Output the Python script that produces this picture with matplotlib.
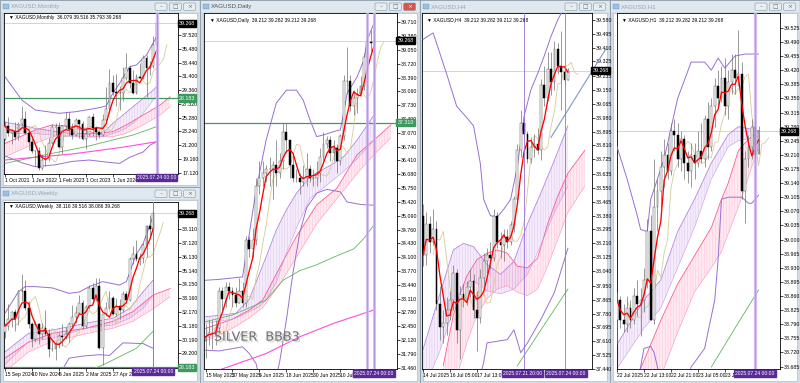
import numpy as np
import pandas as pd
import matplotlib
matplotlib.use('Agg')
import matplotlib.pyplot as plt
import matplotlib.transforms as mtrans
import matplotlib.patheffects as pe
from matplotlib.colors import to_rgba
from matplotlib.patches import Rectangle, FancyBboxPatch

plt.rcParams['font.family'] = ['Liberation Sans Narrow', 'Liberation Sans', 'DejaVu Sans']
plt.rcParams['hatch.linewidth'] = 0.3

# ---------------- data ----------------
last_price = 39.268
vline_label = '2025.07.24 00:00'

# Monthly, Oct 2021 .. Jul 2025
m_open = [22.18, 23.98, 23.03, 23.30, 22.44, 24.30, 25.10, 22.99, 21.69, 20.28, 20.30, 17.86, 19.04, 19.17, 21.49,
          23.95, 23.93, 20.95, 24.09, 25.02, 23.56, 22.76, 24.90, 24.35, 22.14, 22.87, 25.30, 23.79, 23.22, 22.68,
          24.96, 26.58, 30.42, 29.12, 28.92, 28.89, 31.14, 32.64, 30.39, 28.90, 31.30, 31.13, 34.06, 32.70, 33.00, 36.079]
m_high = [24.82, 25.40, 23.41, 24.70, 24.70, 26.94, 26.22, 23.20, 22.51, 20.50, 20.90, 19.95, 21.24, 22.24, 24.30,
          24.55, 24.64, 24.16, 26.09, 26.14, 24.55, 25.27, 24.99, 24.82, 23.70, 25.50, 25.92, 24.09, 23.44, 25.77,
          29.80, 32.51, 31.55, 31.76, 29.97, 32.72, 34.87, 33.03, 32.33, 31.67, 33.40, 34.60, 34.59, 33.70, 37.32, 39.516]
m_low = [21.95, 22.60, 21.42, 22.00, 22.00, 24.00, 22.80, 20.46, 20.10, 18.15, 17.56, 17.45, 18.09, 18.84, 21.38,
         22.76, 20.74, 19.90, 23.57, 22.68, 22.11, 22.52, 22.22, 21.91, 20.68, 22.54, 22.51, 21.93, 22.28, 22.50,
         24.74, 26.02, 28.61, 27.05, 26.45, 27.72, 30.85, 29.69, 28.75, 28.75, 30.97, 31.04, 28.35, 31.65, 32.62, 35.793]
m_close = [23.98, 23.03, 23.30, 22.44, 24.30, 25.10, 22.99, 21.69, 20.28, 20.30, 17.86, 19.04, 19.17, 21.49, 23.95,
           23.93, 20.95, 24.09, 25.02, 23.56, 22.76, 24.90, 24.35, 22.14, 22.87, 25.30, 23.79, 23.22, 22.68, 24.96,
           26.58, 30.42, 29.12, 28.92, 28.89, 31.14, 32.64, 30.39, 28.90, 31.30, 31.13, 34.06, 32.70, 33.00, 36.08, 39.268]
m_ticks = [37.52, 35.48, 33.44, 31.40, 29.36, 27.32, 25.28, 23.24, 21.20, 19.16, 17.12]
m_dates = ['1 Oct 2021', '1 Jun 2022', '1 Feb 2023', '1 Oct 2023', '1 Jun 2024']
m_date_idx = [0, 8, 16, 24, 32]
m_bbup_x = [0, 5, 9, 16, 21, 27, 30, 32, 34, 37, 39, 42, 45]
m_bbup = [31.34, 27.89, 26.41, 25.92, 26.16, 26.66, 27.00, 28.88, 30.36, 32.82, 33.08, 34.56, 37.27]
m_bbdn_x = [0, 5, 9, 15, 20, 25, 30, 34, 37, 41, 43, 45]
m_bbdn = [19.6, 18.6, 18.0, 18.3, 18.8, 19.0, 18.7, 18.5, 19.4, 20.2, 21.2, 21.7]
m_pur_x = [0, 2, 9, 14, 19, 26, 29, 32, 35, 38, 41, 44, 45]
m_pur_top = [24.6, 24.44, 23.7, 23.3, 22.96, 22.9, 22.96, 24.44, 25.67, 26.9, 28.14, 29.37, 29.86]
m_pur_bot = [23.2, 22.96, 22.9, 22.7, 22.45, 22.4, 22.45, 22.9, 23.45, 24.44, 25.92, 27.89, 28.38]
m_pink_x = [0, 9, 14, 19, 27, 32, 36, 41, 46, 49]
m_pink_top = [21.47, 23.45, 24.2, 24.0, 22.96, 23.2, 24.2, 25.67, 27.15, 28.38]
m_pink_bot = [19.49, 21.47, 22.45, 22.6, 22.45, 22.45, 22.96, 24.2, 25.67, 26.9]
m_green_x = [0, 14, 24, 32, 38, 45]
m_green = [18.5, 19.99, 20.97, 21.97, 22.7, 23.95]
m_mag_x = [0, 20, 35, 45]
m_mag = [19.0, 19.9, 20.9, 21.71]
m_level = 28.183

# Weekly, 15 Sep 2024 .. 20 Jul 2025
w_open = [30.70, 31.16, 31.63, 32.16, 31.68, 33.71, 33.68, 32.47, 31.29, 30.22, 31.30, 30.62, 31.03, 30.60, 29.50,
          29.52, 29.88, 30.42, 30.35, 30.61, 31.30, 31.83, 32.13, 32.85, 31.15, 32.55, 33.87, 33.07, 34.06, 29.55,
          32.00, 32.48, 33.15, 32.05, 32.63, 32.29, 33.46, 33.00, 35.95, 36.30, 36.00, 36.07, 36.96, 38.38, 38.116]
w_high = [31.35, 32.72, 32.27, 32.35, 33.75, 34.87, 34.45, 32.99, 31.43, 31.52, 31.38, 31.36, 32.33, 30.93, 30.11,
          30.09, 30.68, 31.30, 31.10, 31.44, 32.70, 32.60, 33.40, 33.05, 32.65, 34.10, 34.23, 34.60, 34.59, 32.05,
          32.89, 33.70, 33.30, 33.20, 33.10, 33.70, 33.70, 36.10, 36.89, 37.32, 36.40, 37.13, 38.45, 39.13, 39.516]
w_low = [30.30, 30.90, 31.10, 30.82, 31.20, 32.96, 32.28, 31.01, 29.69, 30.02, 29.88, 30.23, 30.50, 28.95, 29.35,
         28.75, 29.60, 29.70, 30.20, 30.00, 31.10, 31.40, 32.00, 30.97, 31.04, 32.40, 32.85, 32.93, 29.50, 28.35,
         31.90, 32.35, 31.95, 31.90, 31.65, 32.20, 32.80, 32.95, 35.60, 35.84, 35.55, 35.70, 36.11, 37.50, 38.086]
w_close = [31.16, 31.63, 32.16, 31.68, 33.71, 33.68, 32.47, 31.29, 30.22, 31.30, 30.62, 31.03, 30.60, 29.50, 29.52,
           29.88, 30.42, 30.35, 30.61, 31.30, 31.83, 32.13, 32.85, 31.15, 32.55, 33.87, 33.07, 34.06, 29.55, 32.00,
           32.48, 33.15, 32.05, 32.63, 32.29, 33.46, 33.00, 35.95, 36.30, 36.00, 36.07, 36.96, 38.38, 38.16, 39.268]
w_ticks = [38.11, 37.12, 36.13, 35.14, 34.15, 33.16, 32.17, 31.18, 30.19, 29.20]
w_dates = ['15 Sep 2024', '10 Nov 2024', '5 Jan 2025', '2 Mar 2025', '27 Apr 2025']
w_date_idx = [0, 8, 16, 24, 32]
w_bbup_x = [0, 4, 6, 9, 14, 19, 22, 25, 29, 32, 34, 36, 37, 38, 39, 41, 43, 44]
w_bbup = [32.08, 33.63, 33.99, 33.99, 33.90, 33.51, 33.60, 33.99, 34.35, 34.20, 34.10, 34.35, 35.0, 35.7, 36.3,
          37.1, 38.4, 39.14]
w_bbdn_x = [0, 10, 17, 19, 23, 28, 31, 35, 41, 44]
w_bbdn = [27.6, 27.8, 28.0, 28.85, 29.0, 29.1, 29.05, 29.95, 29.9, 29.55]
w_pur_x = [0, 7, 14, 24, 32, 37, 41, 44]
w_pur_top = [29.3, 30.64, 30.87, 31.36, 31.72, 32.43, 33.63, 34.47]
w_pur_bot = [28.4, 30.04, 30.28, 31.00, 31.23, 31.72, 32.43, 33.39]
w_pink_x = [0, 7, 14, 24, 32, 38, 44, 49]
w_pink_top = [28.86, 30.0, 30.64, 31.0, 31.5, 32.2, 33.4, 33.85]
w_pink_bot = [27.9, 29.3, 30.04, 30.6, 31.0, 31.5, 32.4, 33.27]
w_green_x = [24, 29, 34, 39, 44]
w_green = [27.88, 28.36, 28.96, 29.56, 30.80]
w_level = 28.183

# Daily, 15 May 2025 .. 24 Jul 2025
d_open = [32.10, 32.20, 32.30, 32.30, 32.40, 33.30, 33.10, 33.40, 33.30, 33.20, 33.00, 33.30, 33.00, 34.50, 34.30,
          34.50, 35.80, 36.00, 36.10, 36.20, 36.20, 36.30, 36.10, 36.40, 37.10, 36.90, 36.30, 36.00, 36.00, 35.90,
          36.00, 36.20, 36.00, 36.00, 36.10, 36.50, 36.80, 36.90, 36.60, 36.70, 36.40, 37.00, 38.30, 38.30, 37.72,
          37.90, 38.00, 38.20, 38.88, 39.25, 39.212]
d_high = [32.50, 32.60, 32.60, 32.60, 33.40, 33.40, 33.50, 33.50, 33.40, 33.40, 33.60, 33.50, 34.60, 34.60, 34.80,
          36.00, 36.40, 36.40, 36.30, 36.50, 36.40, 36.90, 36.60, 37.30, 37.30, 36.90, 36.60, 36.20, 36.10, 36.30,
          36.60, 36.30, 36.20, 36.40, 36.70, 37.10, 37.00, 37.00, 36.90, 36.80, 37.05, 38.45, 39.13, 38.45, 38.10,
          38.15, 38.42, 38.98, 39.33, 39.52, 39.282]
d_low = [31.70, 32.00, 31.90, 32.00, 32.30, 32.80, 32.90, 33.10, 32.90, 32.90, 33.00, 32.90, 32.90, 34.10, 34.10,
         34.40, 35.60, 35.80, 35.90, 35.80, 35.50, 35.80, 36.00, 36.20, 36.60, 36.00, 35.90, 35.90, 35.60, 35.80,
         35.80, 35.90, 35.80, 35.80, 35.90, 36.40, 36.70, 36.40, 36.40, 36.10, 36.30, 36.90, 38.00, 37.60, 37.50,
         37.55, 37.95, 38.10, 38.72, 39.03, 39.212]
d_close = [32.20, 32.30, 32.30, 32.40, 33.30, 33.10, 33.40, 33.30, 33.20, 33.00, 33.30, 33.00, 34.50, 34.30, 34.50,
           35.80, 36.00, 36.10, 36.20, 36.20, 36.30, 36.10, 36.40, 37.10, 36.90, 36.30, 36.00, 36.00, 35.90, 36.00,
           36.20, 36.00, 36.00, 36.10, 36.50, 36.80, 36.90, 36.60, 36.70, 36.40, 37.00, 38.30, 38.30, 37.72, 37.90,
           38.00, 38.20, 38.88, 39.25, 39.21, 39.268]
d_ticks = [39.71, 39.38, 39.05, 38.72, 38.39, 38.06, 37.73, 37.40, 37.07, 36.74, 36.41, 36.08, 35.75, 35.42, 35.09,
           34.76, 34.43, 34.10, 33.77, 33.44, 33.11, 32.78, 32.45, 32.12, 31.79, 31.46]
d_dates = ['15 May 2025', '27 May 2025', '6 Jun 2025', '18 Jun 2025', '30 Jun 2025', '10 Jul 2025']
d_date_idx = [0, 8, 16, 24, 32, 40]
d_bbup_x = [0, 4, 11, 15, 18, 21, 24, 27, 29, 31, 33, 35, 38, 40, 41, 42, 45, 47, 48, 50]
d_bbup = [33.55, 33.57, 33.63, 35.70, 36.90, 37.78, 38.09, 38.09, 37.85, 37.38, 36.98, 37.02, 37.10, 37.14, 37.54,
          38.01, 38.41, 38.81, 39.29, 39.69]
d_bbdn_x = [0, 4, 11, 13, 15, 16, 18, 20, 22, 24, 26, 28, 30, 33, 36, 40, 42, 46, 50]
d_bbdn = [31.88, 31.86, 31.96, 31.80, 31.56, 31.20, 30.80, 30.90, 31.60, 32.60, 33.75, 34.70, 35.28, 35.63, 35.72,
          35.66, 35.42, 35.36, 35.34]
d_pur_x = [0, 5, 9, 13, 16, 18, 21, 24, 27, 31, 38, 41, 45, 50]
d_pur_top = [32.68, 32.72, 32.76, 33.10, 33.71, 34.11, 34.75, 35.23, 35.63, 36.02, 36.34, 36.50, 36.90, 37.50]
d_pur_bot = [32.52, 32.58, 32.64, 32.80, 32.92, 33.08, 33.50, 34.20, 34.80, 35.50, 35.95, 36.15, 36.45, 36.90]
d_pink_x = [0, 8, 13, 17, 22, 27, 33, 39, 45, 50, 55]
d_pink_top = [32.40, 32.62, 32.84, 33.08, 33.85, 34.60, 35.35, 35.75, 36.55, 36.90, 37.26]
d_pink_bot = [32.10, 32.40, 32.65, 32.90, 33.45, 34.10, 34.90, 35.50, 36.10, 36.55, 36.95]
d_green_x = [0, 8, 15, 18, 23, 28, 33, 38, 44, 47, 50]
d_green = [32.56, 32.72, 32.96, 33.08, 33.55, 33.78, 33.92, 34.10, 34.30, 34.55, 34.87]
d_mag_x = [0, 6, 18, 28, 38, 50]
d_mag = [31.30, 31.46, 31.80, 32.20, 32.52, 32.84]
d_level = 37.31

# H4, 14 Jul 21:00 .. 24 Jul 00:00
h4_open = [38.38, 38.14, 38.33, 38.22, 38.30, 37.84, 37.70, 37.72, 37.80, 37.86, 38.03, 37.68, 37.90, 37.87, 37.94,
           37.98, 37.80, 37.75, 38.00, 38.10, 38.14, 38.12, 38.38, 38.22, 38.20, 38.25, 38.22, 38.32, 38.48, 38.78,
           38.95, 38.88, 38.73, 38.80, 38.82, 38.78, 39.18, 39.10, 39.28, 39.20, 39.40, 39.30, 39.26, 39.212]
h4_high = [38.45, 38.40, 38.38, 38.42, 38.35, 37.95, 37.80, 37.88, 37.92, 38.08, 38.05, 37.95, 37.96, 37.98, 38.05,
           38.02, 37.92, 38.05, 38.15, 38.18, 38.22, 38.42, 38.40, 38.28, 38.30, 38.30, 38.35, 38.50, 38.82, 39.03,
           38.98, 38.90, 38.86, 38.88, 38.92, 39.22, 39.30, 39.38, 39.38, 39.45, 39.44, 39.51, 39.30, 39.282]
h4_low = [38.07, 38.08, 38.15, 38.20, 37.80, 37.62, 37.60, 37.65, 37.74, 37.80, 37.60, 37.50, 37.82, 37.83, 37.88,
          37.75, 37.55, 37.72, 37.95, 38.02, 38.05, 38.10, 38.18, 38.12, 38.10, 38.18, 38.20, 38.28, 38.45, 38.74,
          38.85, 38.70, 38.70, 38.74, 38.76, 38.72, 39.05, 39.08, 39.12, 39.15, 39.25, 39.03, 39.18, 39.212]
h4_close = [38.14, 38.33, 38.22, 38.30, 37.84, 37.70, 37.72, 37.80, 37.86, 38.03, 37.68, 37.90, 37.87, 37.94, 37.98,
            37.80, 37.75, 38.00, 38.10, 38.14, 38.12, 38.38, 38.22, 38.20, 38.25, 38.22, 38.32, 38.48, 38.78, 38.95,
            38.88, 38.73, 38.80, 38.82, 38.78, 39.18, 39.10, 39.28, 39.20, 39.40, 39.30, 39.26, 39.21, 39.268]
h4_ticks = [39.580, 39.495, 39.410, 39.325, 39.235, 39.150, 39.065, 38.980, 38.895, 38.810, 38.725, 38.635, 38.550,
            38.465, 38.380, 38.295, 38.210, 38.125, 38.040, 37.950, 37.865, 37.780, 37.695, 37.610, 37.525, 37.440]
h4_dates = ['14 Jul 2025', '16 Jul 05:00', '17 Jul 13:00', '18 Jul 21:00', '22 Jul 05:00']
h4_date_idx = [0, 8, 16, 24, 32]
h4_bbup_x = [0, 3, 7, 10, 13, 15, 17, 18, 20, 22, 24, 26, 28, 30, 32, 34, 36, 38, 40, 42]
h4_bbup = [39.46, 39.50, 39.25, 39.05, 38.98, 38.93, 38.70, 38.48, 38.38, 38.37, 38.42, 38.48, 38.68, 38.99, 39.15,
           39.25, 39.36, 39.48, 39.58, 39.66]
h4_bbdn_x = [0, 8, 14, 17, 18, 19, 25, 27, 29, 31, 35, 39, 43]
h4_bbdn = [36.9, 36.8, 37.1, 37.40, 37.48, 37.60, 37.62, 37.68, 37.54, 37.60, 37.745, 37.91, 38.18]
h4_pur_x = [0, 5, 9, 12, 15, 19, 23, 27, 31, 35, 39, 43]
h4_pur_top = [37.56, 37.90, 38.17, 38.21, 38.19, 38.08, 38.02, 38.10, 38.33, 38.52, 38.72, 38.93]
h4_pur_bot = [37.30, 37.55, 37.80, 37.95, 37.98, 37.92, 37.90, 37.93, 38.02, 38.20, 38.40, 38.56]
h4_pink_x = [6, 9, 11, 13, 16, 19, 22, 25, 28, 31, 34, 37, 40, 43, 48]
h4_pink_top = [37.46, 37.77, 37.90, 38.01, 38.11, 38.15, 38.17, 38.15, 38.07, 38.06, 38.12, 38.33, 38.50, 38.64, 38.78]
h4_pink_bot = [37.20, 37.35, 37.46, 37.60, 37.77, 37.87, 37.93, 37.95, 37.91, 37.89, 37.93, 38.07, 38.235, 38.40, 38.56]
h4_green_x = [28, 35, 43]
h4_green = [37.46, 37.68, 37.93]
h4_trend_x = [38, 54.5]
h4_trend = [38.86, 39.41]

# H1, 22 Jul 05:00 .. 24 Jul 00:00
h1_open = [38.80, 38.85, 38.80, 38.79, 38.83, 38.80, 38.86, 38.84, 38.85, 38.90, 39.02, 38.80, 39.08, 39.12, 39.18,
           39.21, 39.17, 39.27, 39.26, 39.20, 39.25, 39.19, 39.17, 39.21, 39.19, 39.22, 39.20, 39.30, 39.23, 39.33,
           39.38, 39.35, 39.40, 39.33, 39.39, 39.42, 39.40, 39.41, 39.12, 39.20, 39.23, 39.28, 39.212]
h1_high = [38.87, 38.86, 38.84, 38.86, 38.85, 38.88, 38.90, 38.88, 38.93, 39.05, 39.06, 39.20, 39.15, 39.22, 39.25,
           39.24, 39.29, 39.30, 39.29, 39.27, 39.26, 39.22, 39.24, 39.24, 39.27, 39.29, 39.31, 39.34, 39.35, 39.40,
           39.42, 39.43, 39.45, 39.42, 39.46, 39.46, 39.52, 39.44, 39.22, 39.26, 39.30, 39.30, 39.282]
h1_low = [38.74, 38.78, 38.77, 38.77, 38.78, 38.79, 38.81, 38.76, 38.82, 38.88, 38.80, 38.79, 39.02, 39.08, 39.13,
          39.15, 39.16, 39.22, 39.18, 39.17, 39.15, 39.14, 39.13, 39.15, 39.18, 39.19, 39.18, 39.20, 39.22, 39.28,
          39.33, 39.34, 39.31, 39.30, 39.36, 39.36, 39.38, 39.10, 39.04, 39.18, 39.20, 39.20, 39.212]
h1_close = [38.85, 38.80, 38.79, 38.83, 38.80, 38.86, 38.84, 38.85, 38.90, 39.02, 38.80, 39.08, 39.12, 39.18, 39.21,
            39.17, 39.27, 39.26, 39.20, 39.25, 39.19, 39.17, 39.21, 39.19, 39.22, 39.20, 39.30, 39.23, 39.33, 39.38,
            39.35, 39.40, 39.33, 39.39, 39.42, 39.40, 39.41, 39.12, 39.20, 39.23, 39.28, 39.21, 39.268]
h1_ticks = [39.525, 39.490, 39.455, 39.420, 39.385, 39.350, 39.315, 39.280, 39.245, 39.210, 39.175, 39.140, 39.105,
            39.070, 39.035, 39.000, 38.965, 38.930, 38.895, 38.860, 38.825, 38.790, 38.755, 38.720, 38.685]
h1_dates = ['22 Jul 2025', '22 Jul 13:00', '22 Jul 21:00', '23 Jul 05:00', '23 Jul 13:00']
h1_date_idx = [0, 8, 16, 24, 32]
h1_bbup_x = [0, 3, 6, 7, 9, 10, 14, 18, 22, 26, 28, 30, 32, 35, 38, 42]
h1_bbup = [39.23, 39.15, 39.06, 39.025, 39.02, 39.10, 39.20, 39.35, 39.44, 39.44, 39.42, 39.45, 39.425, 39.455,
           39.46, 39.46]
h1_bbdn_x = [5, 7, 8, 10, 11, 12, 14, 18, 22, 26, 29, 30, 31, 33, 37, 39, 40, 42]
h1_bbdn = [38.60, 38.684, 38.73, 38.735, 38.72, 38.684, 38.62, 38.55, 38.684, 38.73, 38.85, 38.95, 39.10, 39.105,
           39.105, 39.09, 39.09, 39.11]
h1_pur_x = [0, 8, 13, 18, 23, 28, 33, 36, 42]
h1_pur_top = [38.74, 38.85, 38.90, 39.02, 39.10, 39.19, 39.26, 39.28, 39.27]
h1_pur_bot = [38.68, 38.78, 38.83, 38.93, 39.03, 39.15, 39.23, 39.245, 39.255]
h1_pink_x = [7, 13, 18, 23, 28, 31, 33, 36, 38, 42]
h1_pink_top = [38.68, 38.80, 38.89, 38.96, 39.03, 39.10, 39.14, 39.22, 39.24, 39.27]
h1_pink_bot = [38.55, 38.66, 38.77, 38.87, 38.93, 38.97, 39.015, 39.08, 39.13, 39.23]
h1_green_x = [28, 35, 42]
h1_green = [38.684, 38.78, 38.875]

# ---------------- drawing ----------------
W, H = 800, 383
STEP = 3.37
fig = plt.figure(figsize=(8, 3.83), dpi=100)
fig.patch.set_facecolor('#c3cdd7')

bg = fig.add_axes([0, 0, 1, 1])
bg.set_xlim(0, W)
bg.set_ylim(H, 0)
bg.axis('off')


def window(l, t, r, b, title, active=False):
    bg.add_patch(Rectangle((l, t), r - l, b - t, fc='#d3dce5', ec='#8e9cab', lw=0.6))
    bg.add_patch(Rectangle((l + 1, t + 1), r - l - 2, 11, fc='#dfe7ef', ec='none'))
    bg.add_patch(Rectangle((l + 3, t + 12.5), r - l - 6, b - t - 15, fc='white', ec='#a5b1bd', lw=0.4))
    bg.add_patch(Rectangle((l + 3, t + 3.5), 5.5, 5.5, fc='#9cc0e0', ec='#6e92b6', lw=0.3))
    bg.text(l + 11, t + 6.8, title, fontsize=4.4, color='#505050' if active else '#9aa5b0', va='center',
            family=['Liberation Sans', 'DejaVu Sans'])
    for k, glyph in enumerate(['\u2013', '\u25a1', '\u00d7']):
        bx = r - 45 + k * 14.3
        red = active and k == 2
        fc = '#d9534f' if red else '#e8edf2'
        bg.add_patch(FancyBboxPatch((bx, t + 3), 12, 7.5, boxstyle='round,pad=0,rounding_size=1.3',
                                    fc=fc, ec='#8795a3', lw=0.4))
        bg.text(bx + 6, t + 6.8, glyph, fontsize=4.2, ha='center', va='center',
                color='white' if red else '#6a6a6a', family=['DejaVu Sans'])


window(0, 0, 200, 187, 'XAGUSD,Monthly')
window(0, 187, 200, 383, 'XAGUSD,Weekly')
window(200, 0, 420, 383, 'XAGUSD,Daily', active=True)
window(420, 0, 610, 383, 'XAGUSD,H4')
window(610, 0, 800, 383, 'XAGUSD,H1')

# chart-shift markers at the top of each chart
bg.plot([160, 160, 378, 573, 763], [16, 205, 16, 16, 16], ls='none', marker='v', ms=2.2,
        color='#a0a0a0', zorder=20)


def ribbon(ax, x, top, bot, color, edge):
    ax.fill_between(x, bot, top, facecolor=to_rgba(color, 0.18), edgecolor=to_rgba(color, 0.55),
                    hatch='||||||', lw=0, zorder=1)
    ax.plot(x, top, color=edge, lw=0.55, zorder=2)
    ax.plot(x, bot, color=color, lw=0.4, zorder=2)


def panel(box, x0, ylim, o, h, l, c, ticks, dates, date_idx, header):
    left, top, right, bottom = box
    ax = fig.add_axes([left / W, 1 - bottom / H, (right - left) / W, (bottom - top) / H])
    ax.set_facecolor('white')
    ax.set_xlim((left - x0) / STEP, (right - x0) / STEP)
    ax.set_ylim(*ylim)
    for s in ax.spines.values():
        s.set_linewidth(0.6)
        s.set_color('black')
    ax.yaxis.tick_right()
    ax.set_yticks(ticks)
    ax.set_yticklabels([f'{v:.3f}' for v in ticks])
    ax.set_xticks(date_idx)
    ax.set_xticklabels(dates)
    for t in ax.get_xticklabels():
        t.set_ha('left')
    ax.tick_params(axis='y', length=2, width=0.5, pad=1.0, labelsize=3.8)
    ax.tick_params(axis='x', length=2, width=0.5, pad=1.0, labelsize=3.6)

    o, h, l, c = (np.asarray(v, float) for v in (o, h, l, c))
    x = np.arange(len(o))
    ax.vlines(x, l, h, color='#707070', lw=0.5, zorder=4)
    up = c >= o
    ax.bar(x[up], (c - o)[up], bottom=o[up], width=0.55, color='white', edgecolor='#555555', lw=0.35, zorder=5)
    ax.bar(x[~up], (o - c)[~up], bottom=c[~up], width=0.55, color='black', edgecolor='black', lw=0.35, zorder=5)

    close = pd.Series(c)
    red = close.rolling(4, min_periods=1).mean()
    tan = close.rolling(3, min_periods=1).mean()
    ax.plot(x + 3, tan, color='#d8cc98', lw=0.6, zorder=3)
    ax.plot(x, red, color='#ff0000', lw=0.95, zorder=6)

    ax.axhline(last_price, color='#c4c4c4', lw=0.5, zorder=0.5)
    tr = mtrans.blended_transform_factory(ax.transAxes, ax.transData)
    ax.text(1.004, last_price, f'{last_price:.3f}', transform=tr, fontsize=3.8, color='white', va='center',
            ha='left', bbox=dict(boxstyle='square,pad=0.2', fc='black', ec='black'), zorder=10, clip_on=False)
    ax.text(0.03, 0.988, '\u25bc ' + header, transform=ax.transAxes, fontsize=3.5, va='top', ha='left',
            color='black', zorder=10)
    return ax


def date_box(ax, i, text, fc='#5a2a96'):
    tr = mtrans.blended_transform_factory(ax.transData, ax.transAxes)
    ax.text(i, -0.006, text, transform=tr, fontsize=3.6, color='white', ha='center', va='top', zorder=12,
            bbox=dict(boxstyle='square,pad=0.22', fc=fc, ec=fc), clip_on=False)


def level(ax, value):
    ax.axhline(value, color='#3c9a5f', lw=0.9, zorder=2)
    tr = mtrans.blended_transform_factory(ax.transAxes, ax.transData)
    ax.text(1.004, value, f'{value:.3f}', transform=tr, fontsize=3.8, color='white', va='center', ha='left',
            bbox=dict(boxstyle='square,pad=0.2', fc='#3c9a5f', ec='#3c9a5f'), zorder=10, clip_on=False)


BB = '#9a6fd2'
PUR = '#c49be6'
PINK = '#ff8fb5'

# Monthly
ax = panel((3.5, 13.3, 178, 174), 5, (16.93, 40.735), m_open, m_high, m_low, m_close, m_ticks,
           m_dates, m_date_idx, 'XAGUSD,Monthly  36.079 39.516 35.793 39.268')
ribbon(ax, m_pink_x, m_pink_top, m_pink_bot, PINK, '#ff4f8a')
ribbon(ax, m_pur_x, m_pur_top, m_pur_bot, PUR, '#b07fe0')
ax.plot(m_bbup_x, m_bbup, color=BB, lw=0.7, zorder=3)
ax.plot(m_bbdn_x, m_bbdn, color=BB, lw=0.7, zorder=3)
ax.plot(m_green_x, m_green, color='#5cb85c', lw=0.6, zorder=3)
ax.plot(m_mag_x, m_mag, color='#ff4de0', lw=0.8, zorder=3)
level(ax, m_level)
ax.axvline(45, color='#cfb3ef', lw=2.4, alpha=0.85, zorder=7)
ax.axvline(45, color='#a47bd6', lw=0.5, zorder=7)
date_box(ax, 45, vline_label)

# Weekly
ax = panel((3.5, 202, 178, 368), 5, (28.146, 40.07), w_open, w_high, w_low, w_close, w_ticks,
           w_dates, w_date_idx, 'XAGUSD,Weekly  38.116 39.516 38.086 39.268')
ribbon(ax, w_pink_x, w_pink_top, w_pink_bot, PINK, '#ff4f8a')
ribbon(ax, w_pur_x, w_pur_top, w_pur_bot, PUR, '#b07fe0')
ax.plot(w_bbup_x, w_bbup, color=BB, lw=0.7, zorder=3)
ax.plot(w_bbdn_x, w_bbdn, color=BB, lw=0.7, zorder=3)
ax.plot(w_green_x, w_green, color='#5cb85c', lw=0.6, zorder=3)
level(ax, w_level)
ax.axvline(44, color='#9a6fd2', lw=0.7, zorder=7)
date_box(ax, 44, vline_label)

# Daily
ax = panel((204, 13.3, 396.7, 369), 205.5, (31.43, 39.925), d_open, d_high, d_low, d_close, d_ticks,
           d_dates, d_date_idx, 'XAGUSD,Daily  39.212 39.282 39.212 39.268')
ribbon(ax, d_pink_x, d_pink_top, d_pink_bot, PINK, '#ff4f8a')
ribbon(ax, d_pur_x, d_pur_top, d_pur_bot, PUR, '#b07fe0')
ax.plot(d_bbup_x, d_bbup, color=BB, lw=0.7, zorder=3)
ax.plot(d_bbdn_x, d_bbdn, color=BB, lw=0.7, zorder=3)
ax.plot(d_green_x, d_green, color='#5cb85c', lw=0.6, zorder=3)
ax.plot(d_mag_x, d_mag, color='#ff4de0', lw=0.8, zorder=3)
level(ax, d_level)
for vx in (48, 50):
    ax.axvline(vx, color='#cfb3ef', lw=2.2, alpha=0.85, zorder=7)
    ax.axvline(vx, color='#a47bd6', lw=0.4, zorder=7)
date_box(ax, 45, '   ', fc='#b190e0')
date_box(ax, 50, vline_label)
ax.text(2.5, 32.19, 'SILVER  BBB3', fontsize=9.2, color='#6e6e6e', va='center', ha='left', zorder=9,
        family=['DejaVu Sans'],
        path_effects=[pe.withSimplePatchShadow(offset=(1.2, -1.2), shadow_rgbFace='#c8c8c8', alpha=0.8)])

# H4
ax = panel((421.7, 13.3, 591.7, 369), 423, (37.446, 39.62), h4_open, h4_high, h4_low, h4_close, h4_ticks,
           h4_dates, h4_date_idx, 'XAGUSD,H4  39.212 39.282 39.212 39.268')
ribbon(ax, h4_pink_x, h4_pink_top, h4_pink_bot, PINK, '#ff4f8a')
ribbon(ax, h4_pur_x, h4_pur_top, h4_pur_bot, PUR, '#b07fe0')
ax.plot(h4_bbup_x, h4_bbup, color=BB, lw=0.7, zorder=3)
ax.plot(h4_bbdn_x, h4_bbdn, color=BB, lw=0.7, zorder=3)
ax.plot(h4_green_x, h4_green, color='#5cb85c', lw=0.6, zorder=3)
ax.plot(h4_trend_x, h4_trend, color='#7f99c4', lw=0.8, zorder=3, clip_on=False)
for vx in (30, 42):
    ax.axvline(vx, color='#9a6fd2', lw=0.6, zorder=7)
date_box(ax, 29.6, '2025.07.21 20:00')
date_box(ax, 42.4, vline_label)

# H1
ax = panel((616.7, 13.3, 780, 369), 617, (38.679, 39.561), h1_open, h1_high, h1_low, h1_close, h1_ticks,
           h1_dates, h1_date_idx, 'XAGUSD,H1  39.212 39.282 39.212 39.268')
ribbon(ax, h1_pink_x, h1_pink_top, h1_pink_bot, PINK, '#ff4f8a')
ribbon(ax, h1_pur_x, h1_pur_top, h1_pur_bot, PUR, '#b07fe0')
ax.plot(h1_bbup_x, h1_bbup, color=BB, lw=0.7, zorder=3)
ax.plot(h1_bbdn_x, h1_bbdn, color=BB, lw=0.7, zorder=3)
ax.plot(h1_green_x, h1_green, color='#5cb85c', lw=0.6, zorder=3)
ax.axvline(41, color='#cfb3ef', lw=2.4, alpha=0.85, zorder=7)
ax.axvline(41, color='#a47bd6', lw=0.4, zorder=7)
date_box(ax, 41, vline_label)

fig.savefig('out.png', dpi=100, facecolor=fig.get_facecolor())
